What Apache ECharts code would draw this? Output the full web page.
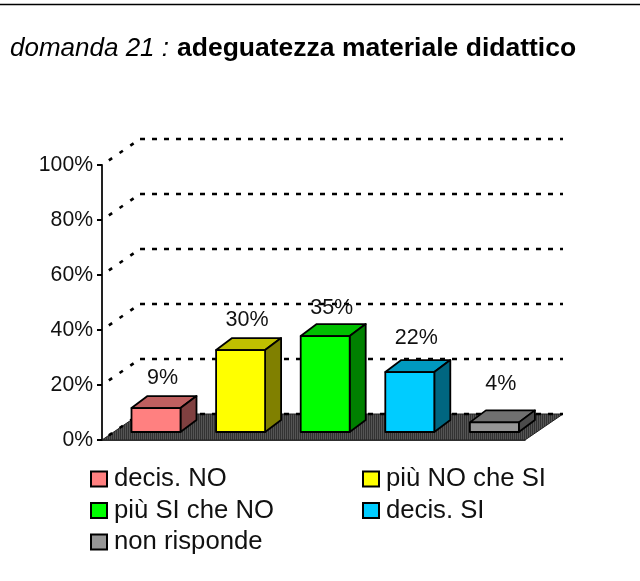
<!DOCTYPE html>
<html><head><meta charset="utf-8">
<style>html,body{margin:0;padding:0;background:#fff}#c{width:640px;height:581px}</style>
<script src="https://cdn.jsdelivr.net/npm/echarts@6/dist/echarts.min.js"></script>
</head><body><div id="c"></div>
<script>
const categories = ['decis. NO','più NO che SI','più SI che NO','decis. SI','non risponde'];
const values = [8.7, 29.8, 34.9, 21.8, 3.5];
const valueLabels = ['9%','30%','35%','22%','4%'];
const yTicks = [0,20,40,60,80,100];
const faceColors = ['#FF8080','#FFFF00','#00FF00','#00CCFF','#969696'];
const topColors  = ['#BF6060','#BFBF00','#00BF00','#0099BF','#707070'];
const sideColors = ['#804040','#808000','#008000','#006680','#4B4B4B'];
const labelNudge = [0,0,2,-4,-8];

const DX=38, DY=-26, BAR_W=49, BAR_DX=16, BAR_DY=-12, FRONT_X=11.7, FRONT_Y=-8;
const font='"Liberation Sans",Arial,sans-serif';
const chart=echarts.init(document.getElementById('c'));

const tile=document.createElement('canvas'); tile.width=2; tile.height=2;
(function(){const g=tile.getContext('2d');g.fillStyle='#555';g.fillRect(0,0,2,2);g.fillStyle='#333';g.fillRect(0,0,1,2);})();

function gridItem(params,api){
  const v=api.value(0), cs=params.coordSys;
  const y=api.coord([0,v])[1];
  const x0=cs.x, x1=cs.x+cs.width;
  return {type:'group',silent:true,children:[
    {type:'line',shape:{x1:x0,y1:y,x2:x0+DX,y2:y+DY},style:{stroke:'#000',lineWidth:2.6,lineDash:[4,9],lineDashOffset:4.7}},
    {type:'line',shape:{x1:x0+DX,y1:y+DY,x2:x1+DX,y2:y+DY},style:{stroke:'#000',lineWidth:2.6,lineDash:[5,7]}}
  ]};
}
function floorItem(params,api){
  const cs=params.coordSys, y=cs.y+cs.height, x0=cs.x, x1=cs.x+cs.width;
  return {type:'polygon',silent:true,shape:{points:[[x0,y],[x1,y],[x1+DX,y+DY],[x0+DX,y+DY]]},
    style:{fill:{image:tile,repeat:'repeat'},stroke:'#222',lineWidth:1}};
}
function barItem(i){return function(params,api){
  const top=api.coord([api.value(0),api.value(1)]), base=api.coord([api.value(0),0]);
  const xl=top[0]+FRONT_X-BAR_W/2, xr=xl+BAR_W, yt=top[1]+FRONT_Y, yb=base[1]+FRONT_Y;
  const st=c=>({fill:c,stroke:'#000',lineWidth:1.8,lineJoin:'round'});
  return {type:'group',children:[
    {type:'polygon',shape:{points:[[xl,yt],[xr,yt],[xr+BAR_DX,yt+BAR_DY],[xl+BAR_DX,yt+BAR_DY]]},style:st(topColors[i])},
    {type:'polygon',shape:{points:[[xr,yt],[xr+BAR_DX,yt+BAR_DY],[xr+BAR_DX,yb+BAR_DY],[xr,yb]]},style:st(sideColors[i])},
    {type:'rect',shape:{x:xl,y:yt,width:BAR_W,height:yb-yt},style:st(faceColors[i])},
    {type:'text',x:(xl+xr)/2+6.5,y:yt-30+labelNudge[i],style:{text:valueLabels[i],fontFamily:font,fontSize:21.5,fill:'#111',align:'center',verticalAlign:'middle'}}
  ]};
};}

const series=[
 {type:'custom',name:'_floor',coordinateSystem:'cartesian2d',renderItem:floorItem,data:[[0]],encode:{y:0},z:1,silent:true},
 {type:'custom',name:'_grid',coordinateSystem:'cartesian2d',renderItem:gridItem,data:yTicks.map(v=>[v]),encode:{y:0},z:2,silent:true},
 ...categories.map((name,i)=>({type:'custom',name,coordinateSystem:'cartesian2d',renderItem:barItem(i),
   data:[[i,values[i]]],encode:{x:0,y:1},z:3,itemStyle:{color:faceColors[i]}}))
];
const legendBase={orient:'vertical',itemWidth:16,itemHeight:15,itemGap:5.5,icon:'rect',selectedMode:false,
  itemStyle:{borderColor:'#000',borderWidth:2},padding:0,
  textStyle:{fontFamily:font,fontSize:25.7,color:'#111',padding:[0,0,0,2]}};
chart.setOption({
  animation:false,backgroundColor:'#fff',
  title:{left:10,top:35,padding:0,text:'{a|domanda 21 :}{b|adeguatezza materiale didattico}',
    textStyle:{rich:{a:{fontFamily:font,fontStyle:'italic',fontWeight:'normal',fontSize:26,color:'#000'},
                     b:{fontFamily:font,fontWeight:'bold',fontSize:26.5,color:'#000',padding:[0,0,0,8]}}}},
  grid:{left:102,top:165,width:423,height:275},
  xAxis:{type:'category',data:categories,axisLine:{show:true,lineStyle:{color:'#000',width:1.5}},axisTick:{show:false},axisLabel:{show:false}},
  yAxis:{type:'value',min:0,max:100,interval:20,splitLine:{show:false},
    axisLine:{show:true,lineStyle:{color:'#222',width:2}},
    axisTick:{show:true,length:5,lineStyle:{color:'#000',width:2}},
    axisLabel:{formatter:'{value}%',fontFamily:font,fontSize:21.2,color:'#111',margin:9,padding:[2,0,0,0]}},
  legend:[
    {...legendBase,left:90,top:466,data:[categories[0],categories[2],categories[4]]},
    {...legendBase,left:362,top:466,data:[categories[1],categories[3]]}
  ],
  series,
  graphic:[{type:'line',silent:true,shape:{x1:0,y1:4.5,x2:640,y2:4.5},style:{stroke:'#000',lineWidth:1.5}}]
});
</script></body></html>
